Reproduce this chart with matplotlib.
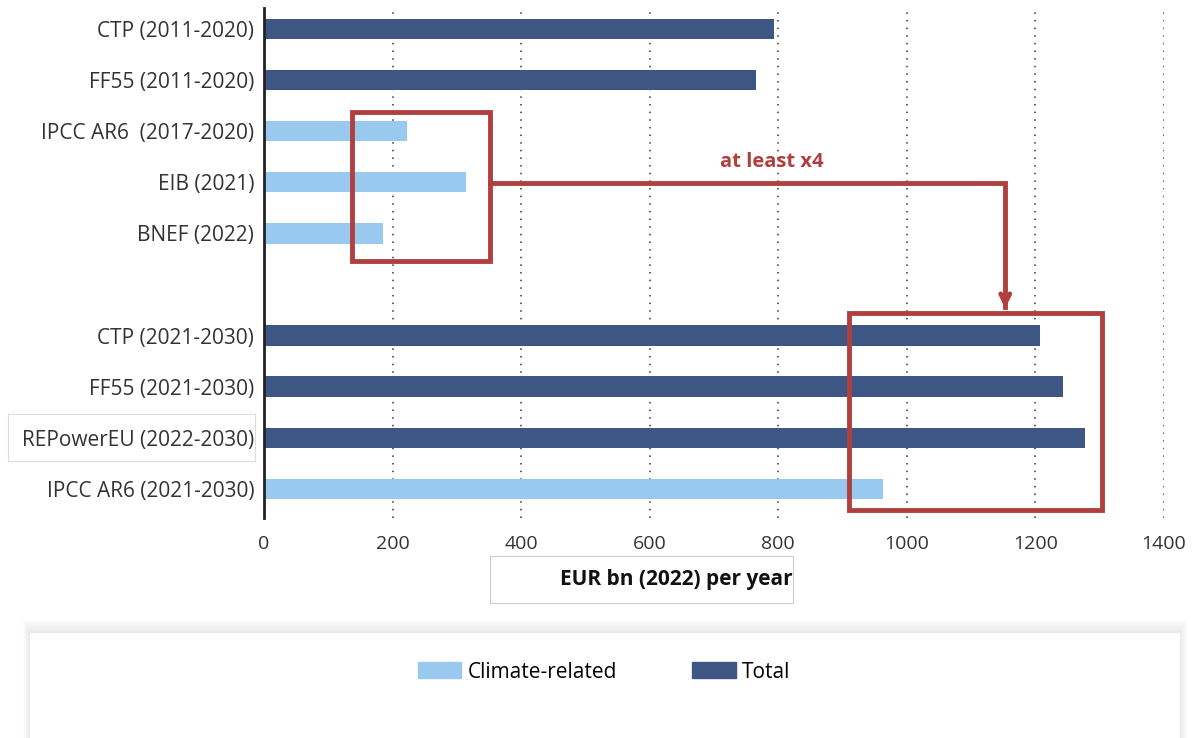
import numpy as np
import matplotlib.pyplot as plt
from matplotlib.patches import Rectangle

plt.rcParams['font.family'] = ['Open Sans', 'DejaVu Sans']

colors = {
    'Navy': '#3D5684',
    'Light': '#99C9EE',
    'Red': '#B0403F',
    'Ink': '#222222',
}

labels = ['CTP (2011-2020)', 'FF55 (2011-2020)', 'IPCC AR6  (2017-2020)', 'EIB (2021)',
          'BNEF (2022)', '', 'CTP (2021-2030)', 'FF55 (2021-2030)',
          'REPowerEU (2022-2030)', 'IPCC AR6 (2021-2030)']
values = [793, 765, 222, 314, 185, 0, 1207, 1243, 1277, 963]
kinds = ['Total', 'Total', 'Climate', 'Climate', 'Climate', None,
         'Total', 'Total', 'Total', 'Climate']
xticks = [0, 200, 400, 600, 800, 1000, 1200, 1400]

fig = plt.figure(figsize=(11.92, 7.38), dpi=100, facecolor='white')
ax = fig.add_axes([264 / 1192, 1 - 518 / 738, (1164 - 264) / 1192, (518 - 8) / 738])

y = np.arange(len(labels))
bar_colors = [colors['Navy'] if k == 'Total' else colors['Light'] for k in kinds]
ax.barh(y, values, height=0.4, color=bar_colors, zorder=2)

ax.set_ylim(9.57, -0.41)
ax.set_xlim(0, 1400)
ax.set_yticks(y)
ax.set_yticklabels(labels, fontsize=15, color='#333333')
ax.set_xticks(xticks)
ax.set_xticklabels([str(t) for t in xticks], fontsize=14, color='#333333')
ax.tick_params(axis='y', length=0, pad=7)
ax.tick_params(axis='x', length=0, pad=12)

for t in xticks[1:]:
    ax.axvline(t, color='#333333', lw=1.1, ls=(0, (1, 4)), zorder=1)

for s in ['top', 'right', 'bottom']:
    ax.spines[s].set_visible(False)
ax.spines['left'].set_color(colors['Ink'])
ax.spines['left'].set_linewidth(2)

# faint frame around the REPowerEU label
fig.add_artist(Rectangle((8 / 1192, 1 - 461 / 738), (255 - 8) / 1192, 47 / 738,
                         transform=fig.transFigure, fill=False, ec='#dddddd', lw=0.8))

# red boxes and connector arrow
ax.add_patch(Rectangle((137, 1.62), 351 - 137, 4.54 - 1.62, fill=False,
                       ec=colors['Red'], lw=3.5, zorder=4, clip_on=False))
ax.add_patch(Rectangle((910, 5.56), 1303 - 910, 9.41 - 5.56, fill=False,
                       ec=colors['Red'], lw=3.5, zorder=4, clip_on=False))
ax.plot([351, 1153, 1153], [3.01, 3.01, 5.45], color=colors['Red'], lw=3.5,
        solid_joinstyle='miter', zorder=4)
ax.annotate('', xy=(1153, 5.52), xytext=(1153, 5.2),
            arrowprops=dict(arrowstyle='->', color=colors['Red'], lw=3.5,
                            mutation_scale=16), zorder=4)
ax.text(790, 2.6, 'at least x4', color=colors['Red'], fontsize=14.5,
        fontweight='bold', ha='center', va='center')

# x label in a framed box
fig.text(793 / 1192, 1 - 580 / 738, 'EUR bn (2022) per year', fontsize=15,
         fontweight='bold', ha='right', va='center', color='#111111')
fig.add_artist(Rectangle((490 / 1192, 1 - 603 / 738), (793 - 490) / 1192, 47 / 738,
                         transform=fig.transFigure, fill=False, ec='#cccccc', lw=0.8))

# legend panel with soft shadow
for i in range(8):
    fig.add_artist(Rectangle(((30 - i) / 1192, 0), (1150 + 2 * i) / 1192, (105 + 2 * i) / 738,
                             transform=fig.transFigure, fc='#000000', ec='none', alpha=0.012))
fig.add_artist(Rectangle((30 / 1192, 0), 1150 / 1192, 105 / 738,
                         transform=fig.transFigure, fc='white', ec='none'))

handles = [Rectangle((0, 0), 1, 1, color=colors['Light']),
           Rectangle((0, 0), 1, 1, color=colors['Navy'])]
fig.legend(handles, ['Climate-related', 'Total'], loc='center',
           bbox_to_anchor=(604 / 1192, 1 - 672 / 738), ncol=2, frameon=False,
           fontsize=15, handlelength=2.1, handleheight=0.8, handletextpad=0.3,
           columnspacing=3.6)

plt.savefig('out.png', dpi=100, facecolor='white')
